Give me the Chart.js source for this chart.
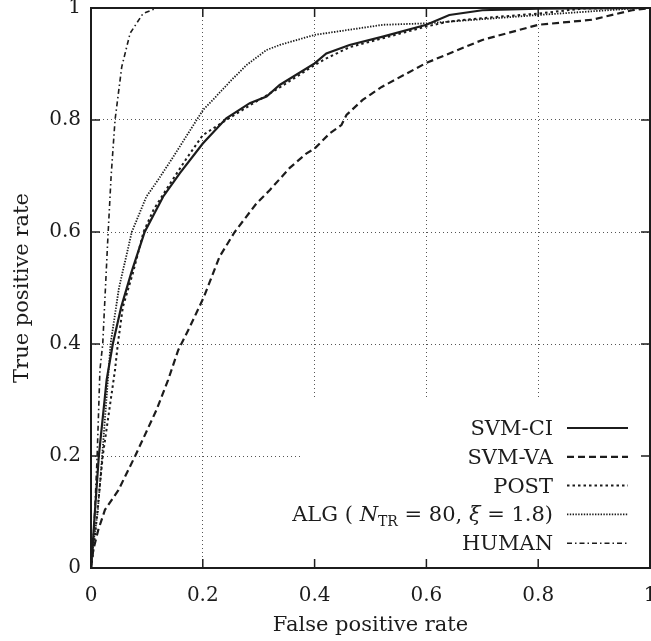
<!DOCTYPE html>
<html>
<head>
<meta charset="utf-8">
<script src="https://cdn.jsdelivr.net/npm/chart.js@4.4.1/dist/chart.umd.min.js"></script>
<style>
html, body { margin: 0; padding: 0; background: #fff; }
</style>
</head>
<body>
<canvas id="roc" width="651" height="641"></canvas>
<script>
const FONT = "'DejaVu Serif', serif";
const INK = '#1c1c1c';

// --- ROC curves (false positive rate -> true positive rate) ---
const svmCiFpr = [0, 0.003, 0.006, 0.014, 0.028, 0.039, 0.054, 0.072, 0.096, 0.129, 0.159, 0.2, 0.242, 0.284, 0.314, 0.3375, 0.4, 0.421, 0.4625, 0.522, 0.6, 0.641, 0.7, 0.8, 1];
const svmCiTpr = [0, 0.04, 0.086, 0.2, 0.336, 0.4, 0.466, 0.527, 0.6, 0.663, 0.705, 0.758, 0.803, 0.83, 0.842, 0.8625, 0.901, 0.919, 0.934, 0.949, 0.97, 0.9875, 0.996, 0.999, 1];

const svmVaFpr = [0, 0.004, 0.013, 0.025, 0.049, 0.079, 0.117, 0.138, 0.156, 0.177, 0.202, 0.23, 0.257, 0.296, 0.32, 0.355, 0.385, 0.4, 0.427, 0.448, 0.457, 0.486, 0.52, 0.6, 0.7, 0.8, 0.896, 0.968, 1];
const svmVaTpr = [0, 0.032, 0.068, 0.104, 0.139, 0.2, 0.282, 0.336, 0.389, 0.431, 0.484, 0.556, 0.6, 0.651, 0.675, 0.714, 0.74, 0.749, 0.776, 0.791, 0.809, 0.836, 0.859, 0.902, 0.943, 0.97, 0.979, 0.996, 1];

const postFpr = [0, 0.004, 0.01, 0.021, 0.043, 0.048, 0.057, 0.075, 0.094, 0.112, 0.138, 0.17, 0.2, 0.242, 0.284, 0.3375, 0.4, 0.421, 0.4625, 0.522, 0.6, 0.641, 0.7, 0.8, 0.88, 1];
const postTpr = [0, 0.03, 0.086, 0.2, 0.354, 0.4, 0.466, 0.527, 0.6, 0.64, 0.681, 0.73, 0.773, 0.8, 0.826, 0.858, 0.898, 0.91, 0.93, 0.946, 0.967, 0.976, 0.982, 0.99, 0.999, 1];

const algFpr = [0, 0.005, 0.012, 0.02, 0.035, 0.05, 0.073, 0.099, 0.12, 0.147, 0.189, 0.2005, 0.218, 0.25, 0.278, 0.314, 0.3375, 0.4, 0.522, 0.6, 0.8, 0.968, 1];
const algTpr = [0, 0.05, 0.1, 0.2, 0.4, 0.5, 0.6, 0.663, 0.693, 0.734, 0.8, 0.818, 0.836, 0.87, 0.898, 0.925, 0.934, 0.952, 0.97, 0.9726, 0.9875, 0.999, 1];

const humanFpr = [0, 0.003, 0.006, 0.011, 0.016, 0.021, 0.03, 0.036, 0.043, 0.055, 0.07, 0.093, 0.118, 0.2, 1];
const humanTpr = [0, 0.04, 0.086, 0.2, 0.354, 0.4, 0.586, 0.7, 0.8, 0.895, 0.955, 0.99, 1, 1, 1];

const axisTicks = [0, 0.2, 0.4, 0.6, 0.8, 1];

function toPoints(xs, ys) {
    return xs.map((x, i) => ({ x: x, y: ys[i] }));
}

// label is drawn as runs so the subscript can be set smaller
const legendRows = [
    { runs: [['SVM-CI', 'n']], dash: [], width: 2.2 },
    { runs: [['SVM-VA', 'n']], dash: [7, 4], width: 2.2 },
    { runs: [['POST', 'n']], dash: [2.5, 3], width: 2 },
    { runs: [['ALG ( ', 'n'], ['N', 'i'], ['TR', 's'], [' = 80, ', 'n'], ['\u03BE', 'i'], [' = 1.8)', 'n']], dash: [1.4, 1.4], width: 1.8 },
    { runs: [['HUMAN', 'n']], dash: [5, 3, 1.5, 3], width: 1.6 }
];

const series = [
    toPoints(svmCiFpr, svmCiTpr),
    toPoints(svmVaFpr, svmVaTpr),
    toPoints(postFpr, postTpr),
    toPoints(algFpr, algTpr),
    toPoints(humanFpr, humanTpr)
];

function runFont(kind) {
    if (kind === 'i') return `italic 21px ${FONT}`;
    if (kind === 's') return `14px ${FONT}`;
    return `21px ${FONT}`;
}

// scales must not steal room for overhanging tick labels
function noPad(s) {
    s.paddingLeft = 0; s.paddingRight = 0; s.paddingTop = 0; s.paddingBottom = 0;
}

// --- frame, inner ticks and the boxed legend (gnuplot look) ---
const framePlugin = {
    id: 'frame',
    afterDraw(chart) {
        const { ctx, chartArea: a, scales: { x, y } } = chart;
        ctx.save();

        // legend box is opaque and hides the grid behind it
        ctx.fillStyle = '#fff';
        ctx.fillRect(300, 398, a.right - 300, a.bottom - 398);

        ctx.strokeStyle = INK;
        ctx.setLineDash([]);
        ctx.lineWidth = 1.5;
        const seg = (x1, y1, x2, y2) => { ctx.beginPath(); ctx.moveTo(x1, y1); ctx.lineTo(x2, y2); ctx.stroke(); };
        axisTicks.forEach(v => {
            const px = x.getPixelForValue(v);
            const py = y.getPixelForValue(v);
            seg(px, a.bottom, px, a.bottom - 9);
            seg(px, a.top, px, a.top + 9);
            seg(a.left, py, a.left + 9, py);
            seg(a.right, py, a.right - 9, py);
        });

        ctx.lineWidth = 2;
        ctx.strokeRect(a.left, a.top, a.right - a.left, a.bottom - a.top);

        // legend
        const textRight = 553;
        ctx.fillStyle = INK;
        ctx.textBaseline = 'alphabetic';
        ctx.textAlign = 'left';
        legendRows.forEach((row, i) => {
            const rowY = 428 + i * 28.8;
            let total = 0;
            row.runs.forEach(r => { ctx.font = runFont(r[1]); total += ctx.measureText(r[0]).width; });
            let cx = textRight - total;
            row.runs.forEach(r => {
                ctx.font = runFont(r[1]);
                ctx.fillText(r[0], cx, rowY + 7 + (r[1] === 's' ? 5 : 0));
                cx += ctx.measureText(r[0]).width;
            });
            ctx.setLineDash(row.dash);
            ctx.lineWidth = row.width;
            seg(567, rowY, 628, rowY);
        });
        ctx.restore();
    }
};

new Chart(document.getElementById('roc'), {
    type: 'line',
    data: {
        datasets: series.map((pts, i) => ({
            label: legendRows[i].runs.map(r => r[0]).join(''),
            data: pts,
            borderColor: INK,
            borderWidth: legendRows[i].width,
            borderDash: legendRows[i].dash,
            pointRadius: 0,
            tension: 0,
            fill: false
        }))
    },
    options: {
        responsive: false,
        animation: false,
        layout: { autoPadding: false, padding: { top: 8, right: 1, left: 0, bottom: 0 } },
        plugins: { legend: { display: false }, tooltip: { enabled: false } },
        scales: {
            x: {
                type: 'linear',
                min: 0, max: 1,
                afterFit: s => { s.height = 73; noPad(s); },
                afterBuildTicks: s => { s.ticks = axisTicks.map(v => ({ value: v })); },
                ticks: {
                    padding: 16,
                    color: INK,
                    font: { family: FONT, size: 20 },
                    maxRotation: 0,
                    callback: v => String(v)
                },
                grid: { color: '#555', lineWidth: 1, drawTicks: false },
                border: { display: false, dash: [1, 3] },
                title: {
                    display: true,
                    text: 'False positive rate',
                    color: INK,
                    font: { family: FONT, size: 21 },
                    padding: 3
                }
            },
            y: {
                type: 'linear',
                min: 0, max: 1,
                afterFit: s => { s.width = 91; noPad(s); },
                afterBuildTicks: s => { s.ticks = axisTicks.map(v => ({ value: v })); },
                ticks: {
                    padding: 10,
                    color: INK,
                    font: { family: FONT, size: 20 },
                    callback: v => String(v)
                },
                grid: { color: '#555', lineWidth: 1, drawTicks: false },
                border: { display: false, dash: [1, 3] },
                title: {
                    display: true,
                    text: 'True positive rate',
                    color: INK,
                    font: { family: FONT, size: 21 },
                    padding: 10
                }
            }
        }
    },
    plugins: [framePlugin]
});
</script>
</body>
</html>
